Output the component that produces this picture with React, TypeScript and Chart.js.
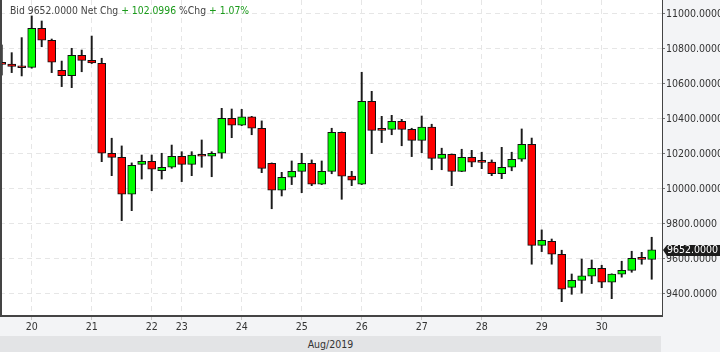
import React, { useEffect, useRef } from 'react';
import { Chart, registerables } from 'chart.js';

Chart.register(...registerables);

// 4-hour candles, index 0..65
const opens = [
  10720, 10714, 10701, 10695, 10918, 10850, 10678, 10647, 10764, 10735,
  10718, 10204, 10181, 9970, 10141, 10158, 10105, 10124, 10187, 10141,
  10193, 10187, 10204, 10404, 10364, 10413, 10347, 10147, 9993, 10067,
  10101, 10147, 10027, 10101, 10324, 10073, 10027, 10501, 10341, 10341,
  10387, 10341, 10278, 10353, 10175, 10198, 10101, 10181, 10153, 10153,
  10087, 10124, 10170, 10255, 9678, 9701, 9627, 9438, 9478, 9501,
  9547, 9467, 9513, 9535, 9604, 9598,
];
const highs = [
  10823, 10779, 10865, 10989, 10960, 10857, 10731, 10804, 10794, 10874,
  10747, 10290, 10246, 10149, 10194, 10194, 10204, 10251, 10213, 10213,
  10280, 10213, 10461, 10457, 10455, 10415, 10389, 10149, 10095, 10160,
  10204, 10166, 10160, 10347, 10326, 10101, 10667, 10558, 10415, 10421,
  10398, 10347, 10417, 10370, 10233, 10200, 10227, 10221, 10210, 10166,
  10238, 10210, 10343, 10291, 9766, 9714, 9650, 9514, 9600, 9594,
  9564, 9515, 9587, 9644, 9638, 9724,
];
const lows = [
  10651, 10665, 10646, 10690, 10813, 10665, 10585, 10579, 10670, 10717,
  10156, 10076, 9819, 9876, 10057, 9990, 10057, 10118, 10042, 10076,
  10124, 10070, 10175, 10293, 10362, 10310, 10093, 9887, 9960, 10025,
  9979, 10019, 10025, 10087, 9941, 10019, 10025, 10202, 10265, 10310,
  10247, 10185, 10207, 10110, 10110, 10019, 10099, 10127, 10116, 10076,
  10059, 10104, 10158, 9570, 9642, 9570, 9356, 9398, 9404, 9459,
  9436, 9373, 9496, 9524, 9570, 9484,
];
const closes = [
  10712, 10701, 10693, 10918, 10850, 10724, 10647, 10764, 10735, 10720,
  10204, 10181, 9970, 10135, 10158, 10113, 10124, 10187, 10141, 10193,
  10187, 10204, 10404, 10364, 10413, 10347, 10118, 9993, 10067, 10101,
  10147, 10027, 10101, 10324, 10073, 10050, 10501, 10335, 10335, 10387,
  10341, 10278, 10353, 10175, 10198, 10101, 10181, 10153, 10152, 10087,
  10124, 10170, 10255, 9678, 9707, 9627, 9427, 9478, 9503, 9547,
  9467, 9513, 9535, 9604, 9598, 9652,
];

const dayTickIndex = [3, 9, 15, 18, 24, 30, 36, 42, 48, 54, 60];
const dayLabels = ['20', '21', '22', '23', '24', '25', '26', '27', '28', '29', '30'];
const yTicks = [9400, 9600, 9800, 10000, 10200, 10400, 10600, 10800, 11000];
const monthLabel = 'Aug/2019';
const lastPrice = 9652;
const bidText = 'Bid 9652.0000 Net Chg';
const netChgText = '+ 102.0996';
const pctLabel = '%Chg';
const pctChgText = '+ 1.07%';

const FONT = '"DejaVu Sans Condensed", "DejaVu Sans", sans-serif';

const decorPlugin = {
  id: 'decor',
  beforeDraw(chart: any) {
    const { ctx, chartArea: a } = chart;
    ctx.save();
    ctx.fillStyle = '#ffffff';
    ctx.fillRect(a.left, a.top, a.right - a.left, a.bottom - a.top);
    ctx.restore();
  },
  afterDraw(chart: any) {
    const { ctx, chartArea: a, scales } = chart;
    ctx.save();
    ctx.fillStyle = '#444';
    ctx.fillRect(a.left, a.top, 2, a.bottom - a.top);
    const y = Math.round(scales.y.getPixelForValue(lastPrice));
    ctx.fillStyle = '#1c1c1c';
    ctx.beginPath();
    ctx.moveTo(a.right + 1, y);
    ctx.lineTo(a.right + 5, y - 5);
    ctx.lineTo(720, y - 5);
    ctx.lineTo(720, y + 6);
    ctx.lineTo(a.right + 5, y + 6);
    ctx.closePath();
    ctx.fill();
    ctx.fillStyle = '#ffffff';
    ctx.font = '10.5px ' + FONT;
    ctx.textBaseline = 'middle';
    ctx.textAlign = 'left';
    ctx.fillText(lastPrice.toFixed(4), a.right + 5, y + 0.5);
    ctx.restore();
  },
};

export default function App() {
  const ref = useRef<HTMLCanvasElement | null>(null);
  useEffect(() => {
    if (!ref.current) return;
    const idx = opens.map((_, i) => i);
    const bodyColors = idx.map((i) => (closes[i] >= opens[i] ? '#00ff00' : '#ff0000'));
    const chart = new Chart(ref.current, {
      type: 'bar',
      data: {
        datasets: [
          {
            label: 'body',
            data: idx.map((i) => ({ x: i, y: [opens[i], closes[i]] })) as any,
            backgroundColor: bodyColors,
            borderColor: '#111111',
            borderWidth: 1,
            borderSkipped: false,
            barThickness: 8,
            minBarLength: 2,
            grouped: false,
            order: 0,
          } as any,
          {
            label: 'wick',
            data: idx.map((i) => ({ x: i, y: [lows[i], highs[i]] })) as any,
            backgroundColor: '#1a1a1a',
            borderWidth: 0,
            barThickness: 1.3,
            grouped: false,
            order: 1,
          } as any,
        ],
      },
      options: {
        responsive: false,
        animation: false,
        devicePixelRatio: 1,
        layout: { padding: { left: 0, right: 0, top: 0, bottom: 16 } },
        plugins: { legend: { display: false }, tooltip: { enabled: false }, title: { display: false } },
        scales: {
          x: {
            type: 'linear',
            offset: false,
            min: -0.17,
            max: 66.03,
            afterBuildTicks: (s: any) => {
              s.ticks = dayTickIndex.map((v) => ({ value: v }));
            },
            afterFit: (s: any) => {
              s.height = 20;
              s.paddingLeft = 0;
              s.paddingRight = 0;
            },
            ticks: {
              autoSkip: false,
              maxRotation: 0,
              padding: 1,
              color: '#333',
              font: { family: FONT, size: 10.5 },
              callback: (v: any) => dayLabels[dayTickIndex.indexOf(Number(v))],
            },
            grid: { offset: false, color: '#e6e6e6', tickColor: '#c8c8c8', tickLength: 4, lineWidth: 1 },
            border: { display: true, color: '#444', width: 2, dash: [5, 4] },
          },
          y: {
            type: 'linear',
            position: 'right',
            min: 9274,
            max: 11080,
            stacked: false,
            afterBuildTicks: (s: any) => {
              s.ticks = yTicks.map((v) => ({ value: v }));
            },
            afterFit: (s: any) => {
              s.width = 58;
              s.paddingTop = 0;
              s.paddingBottom = 0;
            },
            ticks: {
              padding: 1,
              color: '#333',
              font: { family: FONT, size: 10.5 },
              callback: (v: any) => Number(v).toFixed(4),
            },
            grid: { color: '#e6e6e6', tickColor: '#777', tickLength: 3, lineWidth: 1 },
            border: { display: true, color: '#444', width: 1, dash: [5, 4] },
          },
        },
      } as any,
      plugins: [decorPlugin],
    });
    return () => chart.destroy();
  }, []);

  return (
    <div
      style={{
        position: 'absolute',
        left: 0,
        top: 0,
        width: 720,
        height: 352,
        background: '#f3f4f6',
        overflow: 'hidden',
        fontFamily: FONT,
      }}
    >
      <canvas ref={ref} width={720} height={352} style={{ position: 'absolute', left: 0, top: 0 }} />
      <div
        style={{
          position: 'absolute',
          left: 10,
          top: 4,
          fontSize: 10.3,
          lineHeight: '13px',
          color: '#444',
          whiteSpace: 'pre',
        }}
      >
        {bidText + ' '}
        <span style={{ color: '#1a9a1a' }}>{netChgText}</span>
        {' ' + pctLabel + ' '}
        <span style={{ color: '#1a9a1a' }}>{pctChgText}</span>
      </div>
      <div
        style={{
          position: 'absolute',
          left: 0,
          top: 336,
          width: 661,
          height: 16,
          background: '#e3e4e6',
          textAlign: 'center',
          fontSize: 10.5,
          lineHeight: '16px',
          color: '#333',
        }}
      >
        {monthLabel}
      </div>
    </div>
  );
}
